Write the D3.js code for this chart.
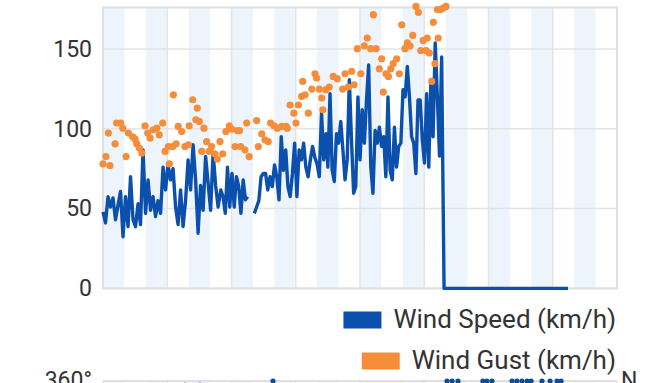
<!DOCTYPE html>
<html>
<head>
<meta charset="utf-8">
<script src="https://cdn.jsdelivr.net/npm/d3@7"></script>
<style>
  html, body { margin: 0; padding: 0; background: #fff; }
  svg { display: block; font-family: Roboto, "Noto Sans", sans-serif; }
</style>
</head>
<body>
<svg id="chart" width="665" height="383"></svg>
<script>
// ---------- data ----------
const yTicks = [0, 50, 100, 150];
const dayHours = [0, 24, 48, 72, 96, 120, 144, 168, 192];

// wind speed readings (km/h), three stretches of roughly even sampling
const speedA = [48, 41, 57.5, 51, 56.7, 43, 52, 60.7, 32.4, 57.5, 38.7, 70, 43, 38.7, 53, 40, 86.8, 47, 68, 49, 57.5, 45, 55, 47, 76, 61.7, 77.4, 68, 75, 51, 40, 61.7, 38.7, 55, 80.5, 61.7, 90, 68, 34.6, 64.5, 49, 82.6, 66, 49, 84.7, 64.5, 51];
const speedAHours = [0, 43];
const speedB = [61.7, 57.5, 47, 76, 51, 72, 51, 70, 63.8, 47, 68, 55.5, 57.5, null, null, 47, 51, 55, 70, 72, 72, 61.7, 70, 63.8, 77.4, 70, 55.5, 95, 74, 86.8, 63.8, 57.5, 72, 91, 57.5, 86.8, 80.5, 91, 76, 70, 80.5, 89, 82, 78, 70, 110, 80.5, 97];
const speedBHours = [44, 83.3];
const speedC = [76, 122, 74, 67, 97, 91, 104.6, 86.8, 68, 80.5, 130.7, 93, 59.6, 63.8, 120, 80.5, 112, 91, 118, 140, 76, 59.6, 99, 91, 101, 89, 95, 70, 120, 74, 68, 101, 76, 89, 91, 124.5, 120, 139, 120, 95, 91, 72, 118, 118, 93, 78.6, 122, 76, 130.7, 95, 153.8, 120, 83, 145];
const speedCHours = [84, 126.5];
const calmHours = [127.4, 173.7];
const calmValues = [0, 0];

// wind gusts (km/h)
const gustHours = [0, 1.1, 2.0, 2.6, 4.5, 5.1, 6.6, 7.4, 8.6, 9.5, 11.1, 12.0, 12.6, 13.6, 14.5, 15.7, 16.7, 17.6, 18.8, 20.1, 21.0, 22.3, 23.2, 24.4, 24.8, 26.0, 26.3, 27.3, 28.1, 29.4, 30.6, 31.9, 32.2, 33.5, 34.7, 35.2, 36.0, 36.9, 37.7, 38.7, 39.7, 40.6, 41.8, 42.7, 43.7, 44.7, 45.9, 47.2, 48.1, 49.3, 50.2, 51.0, 51.4, 53.0, 53.7, 54.6, 57.4, 58.0, 59.3, 60.5, 61.7, 62.6, 63.9, 65.1, 66.8, 68.4, 68.8, 69.9, 71.3, 72.1, 73.0, 74.2, 74.6, 75.5, 76.7, 78.0, 79.2, 79.8, 80.8, 81.7, 82.1, 83.3, 84.5, 86.0, 87.5, 89.5, 90.4, 91.6, 92.9, 93.8, 95.0, 96.3, 97.6, 98.7, 100.0, 101.0, 102.0, 103.2, 104.1, 104.7, 105.7, 106.6, 107.5, 108.4, 109.7, 110.7, 111.6, 112.8, 113.7, 114.7, 115.7, 116.9, 117.8, 118.7, 119.6, 120.7, 121.1, 121.9, 122.8, 123.4, 124.0, 124.9, 125.2, 126.1, 127.1, 128.1];
const gustValues = [78, 82.6, 97.3, 77, 90.6, 103.6, 103.6, 100.4, 82.6, 97.3, 95, 93.5, 90.6, 87.9, 84.8, 101.9, 97.3, 94.2, 99.4, 100.4, 96.2, 103.6, 85.8, 88.9, 78, 88.9, 121.3, 90.6, 101.5, 98.3, 88.9, 90, 101.9, 118.2, 105.6, 113, 104.6, 85.8, 100.4, 92, 85.8, 88.9, 84.3, 81, 92, 84.3, 98.3, 101.9, 99.8, 88.9, 98.9, 98.9, 88.9, 86.8, 103.6, 82.6, 105.2, 88.9, 96.9, 93.1, 92, 103.6, 101.9, 100.4, 101.5, 101.5, 100.4, 114.9, 109.8, 103.6, 114.9, 120.3, 129.7, 121.3, 109.8, 124.9, 134.5, 131.8, 124.9, 119.3, 111.9, 124.5, 126.2, 132.8, 131.4, 124.9, 134.5, 126.2, 136, 127.6, 150.2, 134.5, 152, 156.9, 150.2, 171.5, 150.2, 137.6, 143.9, 123, 134.5, 132.8, 137.6, 140.8, 143.9, 134.5, 165.2, 150.2, 153.8, 152, 158.5, 176.7, 173, 149, 155.4, 149, 156.9, 147.5, 129.7, 166.7, 140.8, 174.7, 156.9, 174.7, 175.7, 176.7];

// wind direction panel (only its top edge is visible)
const dirHours = [30.6, 36.2, 63.5, 128.5, 130.4, 132.6, 141.9, 143.4, 145.3, 152.8, 154.6, 156.5, 158.4, 159.9, 164, 167, 169.6, 171.1];
const dirValues = [354, 354, 360, 360, 360, 360, 360, 360, 360, 360, 360, 360, 360, 360, 360, 360, 360, 360];
const highlightHours = [98, 112];

const legendLabels = ["Wind Speed (km/h)", "Wind Gust (km/h)"];
const colors = { speed: "#0b50ad", gust: "#f68d3a" };

// ---------- layout ----------
const svg = d3.select("#chart");
const pLeft = 103, pRight = 617, pTop = 7.5, pBottom = 288.4;

const x = d3.scaleLinear().domain([0, 192]).range([pLeft, pRight]);
const y = d3.scaleLinear().domain([0, 176]).range([pBottom, pTop]);

// shading bands (every 8 h, alternating)
const bands = d3.range(0, 192, 8).filter((d, i) => i % 2 === 0);
svg.append("g").selectAll("rect").data(bands).join("rect")
  .attr("x", d => x(d)).attr("y", pTop)
  .attr("width", x(8) - x(0)).attr("height", pBottom - pTop)
  .attr("fill", "#eef4fb");

// grid
const grid = svg.append("g").attr("stroke", "#e4e4e4").attr("stroke-width", 1.5);
grid.selectAll(".v").data(dayHours).join("line").attr("class", "v")
  .attr("x1", d => x(d)).attr("x2", d => x(d)).attr("y1", pTop).attr("y2", pBottom);
grid.selectAll(".h").data(yTicks).join("line").attr("class", "h")
  .attr("x1", pLeft).attr("x2", pRight).attr("y1", d => y(d)).attr("y2", d => y(d));
svg.append("rect").attr("x", pLeft).attr("y", pTop).attr("width", pRight - pLeft).attr("height", pBottom - pTop)
  .attr("fill", "none").attr("stroke", "#e0e0e0").attr("stroke-width", 2);

// y axis
const yAxis = d3.axisLeft(y).tickValues(yTicks).tickSize(0).tickPadding(11);
const ya = svg.append("g").attr("transform", `translate(${pLeft},0)`).call(yAxis);
ya.select(".domain").remove();
ya.selectAll("text").attr("font-size", 23).attr("fill", "#333").attr("font-family", "Roboto");

// speed line
function stretch(vals, span) {
  const step = (span[1] - span[0]) / (vals.length - 1);
  return vals.map((v, i) => ({ t: span[0] + i * step, v }));
}
const speedPts = [].concat(
  stretch(speedA, speedAHours),
  stretch(speedB, speedBHours),
  stretch(speedC, speedCHours),
  calmHours.map((t, i) => ({ t, v: calmValues[i] }))
);
const line = d3.line().defined(d => d.v != null).x(d => x(d.t)).y(d => y(d.v));
svg.append("path").datum(speedPts)
  .attr("d", line).attr("fill", "none")
  .attr("stroke", colors.speed).attr("stroke-width", 3.4)
  .attr("stroke-linejoin", "round").attr("stroke-linecap", "butt");

// gust dots
svg.append("g").selectAll("circle").data(gustHours).join("circle")
  .attr("cx", d => x(d)).attr("cy", (d, i) => y(gustValues[i]))
  .attr("r", 3.6).attr("fill", colors.gust);

// legend
const legend = svg.append("g");
const legendRows = [
  { label: legendLabels[0], color: colors.speed, base: 328 },
  { label: legendLabels[1], color: colors.gust, base: 369 }
];
legendRows.forEach(r => {
  const t = legend.append("text").attr("x", 616).attr("y", r.base)
    .attr("text-anchor", "end").attr("font-size", 26).attr("fill", "#333")
    .attr("font-family", "Roboto").text(r.label);
  const w = t.node().getComputedTextLength();
  legend.append("rect").attr("x", 616 - w - 12 - 38).attr("y", r.base - 16.5)
    .attr("width", 38).attr("height", 17).attr("fill", r.color);
});

// direction panel (top edge)
const dTop = 381, dBottom = 631;
const yd = d3.scaleLinear().domain([0, 360]).range([dBottom, dTop]);
svg.append("g").selectAll("rect").data(bands).join("rect")
  .attr("x", d => x(d)).attr("y", dTop).attr("width", x(8) - x(0)).attr("height", dBottom - dTop)
  .attr("fill", "#eef4fb");
svg.append("rect").attr("x", x(highlightHours[0])).attr("y", dTop)
  .attr("width", x(highlightHours[1]) - x(highlightHours[0])).attr("height", dBottom - dTop)
  .attr("fill", "#fdf0c8");
svg.append("g").attr("stroke", "#e4e4e4").attr("stroke-width", 1.5)
  .selectAll("line").data(dayHours).join("line")
  .attr("x1", d => x(d)).attr("x2", d => x(d)).attr("y1", dTop).attr("y2", dBottom);
svg.append("line").attr("x1", pLeft).attr("x2", pRight).attr("y1", dTop).attr("y2", dTop)
  .attr("stroke", "#e0e0e0").attr("stroke-width", 2);
svg.append("g").selectAll("circle").data(dirHours).join("circle")
  .attr("cx", d => x(d)).attr("cy", (d, i) => yd(dirValues[i]))
  .attr("r", 2.6).attr("fill", "#0d4c9c");
svg.append("text").attr("x", 92).attr("y", dTop).attr("dy", "0.32em")
  .attr("text-anchor", "end").attr("font-size", 23).attr("fill", "#333")
  .attr("font-family", "Roboto").text("360°");
svg.append("text").attr("x", 621).attr("y", dTop).attr("dy", "0.32em")
  .attr("font-size", 23).attr("fill", "#333")
  .attr("font-family", "Roboto").text("N");
</script>
</body>
</html>
